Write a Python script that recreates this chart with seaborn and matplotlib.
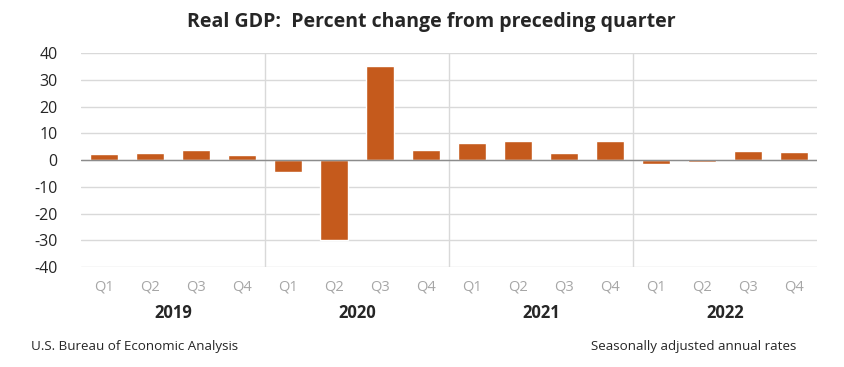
"""
Real GDP: percent change from preceding quarter (BEA style bar chart).
"""

import matplotlib
matplotlib.use("Agg")
import matplotlib.pyplot as plt
import seaborn as sns
import pandas as pd

# ── Data ─────────────────────────────────────────────────────────────────────
YEARS    = ["2019", "2020", "2021", "2022"]
QUARTERS = ["Q1", "Q2", "Q3", "Q4"]
GDP_2019 = [2.2, 2.7, 3.6, 1.8]
GDP_2020 = [-4.6, -29.9, 35.3, 3.9]
GDP_2021 = [6.3, 7.0, 2.7, 7.0]
GDP_2022 = [-1.6, -0.6, 3.2, 2.9]
Y_TICKS  = [-40, -30, -20, -10, 0, 10, 20, 30, 40]

# ── Style ────────────────────────────────────────────────────────────────────
BAR   = "#C55A1C"
GRID  = "#D9D9D9"
DARK  = "#262626"
LIGHT = "#A6A6A6"

sns.set_theme(style="white")
plt.rcParams["font.family"] = ["Open Sans", "DejaVu Sans"]

values = GDP_2019 + GDP_2020 + GDP_2021 + GDP_2022
df = pd.DataFrame({
    "period": [f"{y} {q}" for y in YEARS for q in QUARTERS],
    "quarter": QUARTERS * len(YEARS),
    "gdp": values,
})

fig = plt.figure(figsize=(8.45, 3.67), dpi=100)
ax = fig.add_axes([0.096, 0.2725, 0.871, 0.583])

sns.barplot(data=df, x="period", y="gdp", order=df["period"], color=BAR,
            width=0.61, saturation=1, ax=ax, zorder=3)

ax.set_ylim(-40, 40)
ax.set_xlim(-0.5, len(df) - 0.5)
ax.set_yticks(Y_TICKS)
ax.set_yticklabels([str(t) for t in Y_TICKS], fontsize=11.5, color=DARK)
ax.set_xticks(range(len(df)))
ax.set_xticklabels(df["quarter"], fontsize=10.5, color=LIGHT)
ax.tick_params(axis="both", length=0)
ax.tick_params(axis="y", pad=17)
ax.tick_params(axis="x", pad=9)
ax.set_xlabel("")
ax.set_ylabel("")

for t in Y_TICKS:
    ax.axhline(t, color=GRID, lw=1, zorder=1)
ax.axhline(0, color="#8C8C8C", lw=1, zorder=4)
for i in range(1, len(YEARS)):
    ax.axvline(i * 4 - 0.5, color=GRID, lw=1, zorder=1)
for s in ax.spines.values():
    s.set_visible(False)

# year labels under each group
for i, y in enumerate(YEARS):
    ax.text(i * 4 + 1.5, -0.215, y, transform=ax.get_xaxis_transform(),
            ha="center", va="center", fontsize=12, fontweight="bold", color=DARK)

fig.text(0.51, 0.94, "Real GDP:  Percent change from preceding quarter",
         ha="center", va="center", fontsize=14, fontweight="bold", color=DARK)
fig.text(0.037, 0.055, "U.S. Bureau of Economic Analysis",
         ha="left", va="center", fontsize=9.6, color=DARK)
fig.text(0.943, 0.055, "Seasonally adjusted annual rates",
         ha="right", va="center", fontsize=9.6, color=DARK)

fig.savefig("out.png", dpi=100, facecolor="white")
